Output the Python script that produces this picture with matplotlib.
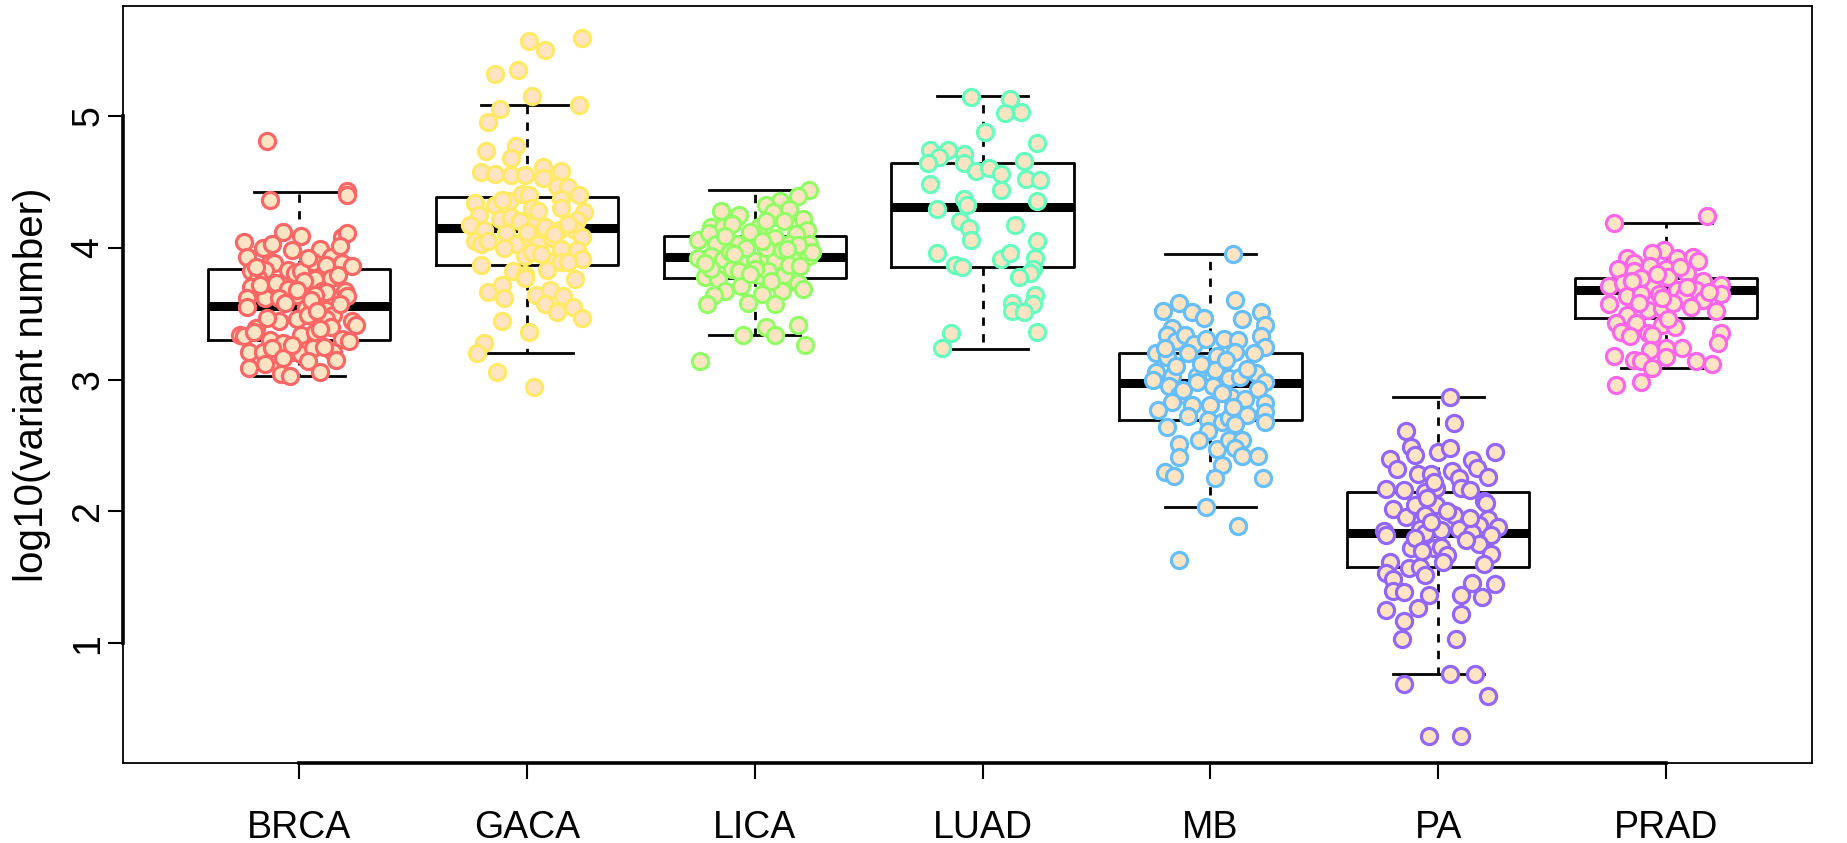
import numpy as np
import matplotlib
matplotlib.use('Agg')
import matplotlib.pyplot as plt

plt.rcParams['font.family'] = ['Liberation Sans', 'DejaVu Sans']

groups = ['BRCA', 'GACA', 'LICA', 'LUAD', 'MB', 'PA', 'PRAD']
edge_colors = ['#FF6666', '#FFE966', '#92FF66', '#66FFBE', '#66BEFF', '#9266FF', '#FF66E9']

# box statistics per cohort: lower whisker, Q1, median, Q3, upper whisker
whis_lo = [3.03, 3.20, 3.34, 3.23, 2.03, 0.77, 3.09]
q1 = [3.30, 3.87, 3.77, 3.85, 2.69, 1.58, 3.47]
medians = [3.56, 4.15, 3.93, 4.31, 2.97, 1.84, 3.68]
q3 = [3.84, 4.38, 4.09, 4.64, 3.20, 2.15, 3.77]
whis_hi = [4.42, 5.08, 4.44, 5.15, 3.95, 2.87, 4.19]

# per-sample log10 variant counts and their horizontal jitter
brca_vals = [4.81, 4.36, 4.43, 4.40, 4.12, 4.09, 4.08, 4.11,
             4.04, 4.00, 4.03, 3.98, 3.99, 3.93, 4.01,
             3.93, 3.88, 3.88, 3.89, 3.87, 3.88, 3.86,
             3.82, 3.83, 3.83, 3.81, 3.82, 3.77, 3.76, 3.77,
             3.70, 3.73, 3.69, 3.67, 3.66, 3.67, 3.63,
             3.62, 3.62, 3.62, 3.64, 3.64,
             3.55, 3.54, 3.53, 3.49,
             3.34, 3.39, 3.44, 3.46, 3.49, 3.46, 3.44, 3.41,
             3.33, 3.30, 3.28, 3.34, 3.36, 3.40, 3.31, 3.29,
             3.21, 3.21, 3.24, 3.21, 3.19, 3.24, 3.21,
             3.09, 3.12, 3.16, 3.14, 3.15,
             3.04, 3.03, 3.06,
             3.72, 3.58, 3.60, 3.75, 3.85, 3.47, 3.38, 3.26,
             3.57, 3.68, 3.92, 3.36, 3.52, 3.79, 3.25]
brca_jit = [-0.14, -0.13, 0.21, 0.21, -0.07, 0.01, 0.19, 0.21,
            -0.24, -0.16, -0.12, -0.03, 0.09, 0.14, 0.18,
            -0.23, -0.13, -0.11, 0.06, 0.12, 0.19, 0.23,
            -0.21, -0.15, -0.05, -0.02, 0.01, -0.18, 0.07, 0.14,
            -0.21, -0.10, -0.05, 0.10, 0.12, 0.20, 0.21,
            -0.23, -0.15, -0.09, -0.01, 0.07,
            -0.23, 0.03, 0.12, 0.15,
            -0.26, -0.19, -0.09, -0.01, 0.04, 0.12, 0.23, 0.25,
            -0.24, -0.13, -0.07, 0.01, 0.07, 0.14, 0.19, 0.22,
            -0.22, -0.16, -0.12, -0.03, 0.01, 0.06, 0.15,
            -0.22, -0.15, -0.07, 0.04, 0.16,
            -0.08, -0.04, 0.09,
            -0.17, -0.06, 0.05, 0.02, -0.19, -0.14, 0.09, -0.03,
            0.18, -0.01, 0.04, -0.20, 0.08, 0.17, 0.11]

gaca_vals = [5.57, 5.50, 5.59, 5.32, 5.35, 5.15, 5.05, 5.08, 4.95,
             4.73, 4.77, 4.68,
             4.57, 4.56, 4.55, 4.55, 4.61, 4.53, 4.58, 4.47,
             4.46, 4.40, 4.34, 4.32, 4.35, 4.41, 4.40, 4.30, 4.37, 4.30, 4.27,
             4.25, 4.17, 4.13, 4.22, 4.23, 4.11, 4.17, 4.16, 4.13, 4.21, 4.13, 4.08,
             4.05, 4.03, 4.05, 4.03, 4.07, 4.03, 4.07, 3.99, 3.98, 3.91,
             3.87, 3.94, 3.97, 3.89, 3.89, 3.89, 3.83,
             3.82, 3.79, 3.77, 3.76,
             3.66, 3.72, 3.62, 3.64, 3.68, 3.63, 3.57, 3.51, 3.55, 3.47,
             3.44, 3.36, 3.28, 3.20, 3.06, 2.94,
             4.20, 4.10, 4.28, 4.00, 4.12, 3.95, 4.36, 4.18]
gaca_jit = [0.01, 0.08, 0.24, -0.14, -0.04, 0.02, -0.12, 0.23, -0.17,
            -0.18, -0.05, -0.07,
            -0.20, -0.14, -0.07, -0.01, 0.07, 0.07, 0.15, 0.13,
            0.18, 0.23, -0.23, -0.14, -0.08, -0.02, 0.01, 0.02, 0.15, 0.15, 0.25,
            -0.21, -0.25, -0.19, -0.12, -0.07, -0.09, 0.03, 0.08, 0.14, 0.22, 0.21, 0.24,
            -0.23, -0.20, -0.17, -0.05, 0.01, 0.05, 0.11, 0.15, 0.22, 0.24,
            -0.20, -0.01, 0.02, 0.11, 0.15, 0.18, 0.09,
            -0.06, -0.01, -0.01, 0.21,
            -0.17, -0.11, -0.10, 0.04, 0.10, 0.16, 0.08, 0.13, 0.20, 0.24,
            -0.11, 0.01, -0.19, -0.22, -0.13, 0.03,
            -0.03, 0.12, 0.05, -0.10, 0.00, 0.06, -0.11, 0.18]

lica_vals = [4.44, 4.39, 4.35, 4.32, 4.28, 4.23, 4.25, 4.27, 4.29, 4.22,
             4.16, 4.16, 4.16, 4.20, 4.20, 4.13, 4.10, 4.06, 4.11, 4.03, 4.03, 4.08, 4.07, 4.03, 4.03,
             3.92, 3.94, 3.91, 3.84, 3.89, 3.90, 3.93, 3.90, 3.93, 3.94, 3.97,
             3.78, 3.76, 3.79, 3.79, 3.73, 3.69, 3.67, 3.67, 3.64,
             3.57, 3.58, 3.65, 3.57,
             3.40, 3.41, 3.34, 3.34, 3.26, 3.14,
             3.97, 4.00, 4.00, 3.98, 3.82, 3.82, 3.84, 3.84, 3.87,
             4.12, 4.02, 3.86, 3.95, 4.05, 3.88, 3.75, 4.18, 3.99, 3.71, 4.09, 3.80]
lica_jit = [0.24, 0.19, 0.11, 0.05, -0.15, -0.08, -0.07, 0.08, 0.15, 0.21,
            -0.19, -0.14, 0.02, 0.05, 0.13, 0.23, 0.18, -0.25, -0.20, -0.17, -0.08, 0.00, 0.09, 0.15, 0.24,
            -0.25, -0.19, -0.14, -0.10, -0.05, 0.00, 0.06, 0.09, 0.16, 0.24, 0.25,
            -0.22, -0.16, 0.02, 0.13, 0.19, 0.21, 0.12, -0.13, -0.18,
            -0.21, -0.03, 0.03, 0.09,
            0.05, 0.19, -0.05, 0.09, 0.22, -0.24,
            -0.11, -0.04, 0.05, 0.12, -0.07, 0.06, 0.00, -0.19, 0.15,
            -0.02, 0.19, 0.20, -0.09, 0.03, -0.22, 0.07, -0.10, 0.14, -0.06, -0.13, -0.02]

luad_vals = [5.14, 5.13, 5.02, 5.03, 4.88, 4.79,
             4.74, 4.74, 4.71, 4.69, 4.64, 4.64, 4.66,
             4.58, 4.60, 4.56, 4.52, 4.51, 4.44, 4.48,
             4.37, 4.32, 4.35, 4.29,
             4.20, 4.15, 4.17, 4.06,
             4.05, 3.96, 3.87, 3.85, 3.91, 3.96, 3.92, 3.84, 3.81, 3.78,
             3.64, 3.57, 3.58, 3.52, 3.51,
             3.35, 3.24, 3.36]
luad_jit = [-0.05, 0.12, 0.10, 0.17, 0.01, 0.24,
            -0.23, -0.15, -0.08, -0.19, -0.24, -0.08, 0.18,
            -0.03, 0.03, 0.08, 0.19, 0.25, 0.08, -0.23,
            -0.08, -0.07, 0.24, -0.20,
            -0.10, -0.06, 0.14, -0.05,
            0.24, -0.20, -0.12, -0.09, 0.08, 0.12, 0.23, 0.22, 0.21, 0.16,
            0.23, 0.22, 0.13, 0.13, 0.18,
            -0.14, -0.18, 0.24]

mb_vals = [3.95,
           3.60, 3.58, 3.52, 3.51, 3.47, 3.51, 3.46, 3.41,
           3.39, 3.34, 3.29, 3.34, 3.27, 3.31, 3.31, 3.30, 3.33, 3.25,
           3.20, 3.17, 3.20, 3.18, 3.21, 3.20,
           3.06, 3.03, 3.03, 3.07, 3.01, 3.02, 3.05, 2.98,
           3.00, 2.95, 2.95, 2.87, 2.85, 2.93,
           2.88, 2.83, 2.77, 2.81, 2.81, 2.82, 2.75, 2.68,
           2.64, 2.69, 2.68, 2.71, 2.73, 2.66,
           2.61, 2.54, 2.51, 2.47, 2.54, 2.54, 2.48, 2.42, 2.42,
           2.41, 2.35, 2.30, 2.27, 2.25, 2.25,
           2.03, 1.89, 1.63,
           3.12, 2.90, 3.08, 2.92, 3.15, 2.79, 3.24, 2.98, 2.72, 3.10]
mb_jit = [0.10,
          0.11, -0.14, -0.21, -0.08, -0.03, 0.22, 0.14, 0.24,
          -0.17, -0.19, -0.15, -0.11, -0.07, -0.02, 0.06, 0.12, 0.22, 0.24,
          -0.24, -0.19, -0.10, 0.03, 0.11, 0.19,
          -0.24, -0.17, -0.06, 0.02, 0.08, 0.13, 0.20, 0.24,
          -0.25, -0.18, 0.01, 0.09, 0.15, 0.21,
          -0.14, -0.17, -0.23, -0.08, 0.00, 0.24, 0.24, 0.24,
          -0.19, -0.01, 0.05, 0.08, 0.16, 0.11,
          -0.01, -0.05, -0.14, 0.03, 0.08, 0.14, 0.11, 0.14, 0.21,
          -0.14, 0.05, -0.20, -0.16, 0.02, 0.23,
          -0.02, 0.12, -0.14,
          -0.04, 0.05, 0.16, -0.12, 0.07, 0.10, -0.20, -0.06, -0.10, -0.15]

pa_vals = [2.87, 2.67,
           2.61, 2.49, 2.43, 2.45, 2.48, 2.45, 2.39, 2.40, 2.32, 2.33, 2.26,
           2.28, 2.28, 2.31, 2.25, 2.18, 2.16, 2.17, 2.16, 2.15, 2.18, 2.08, 2.06,
           2.02, 1.96, 2.05, 2.05, 1.97, 1.97, 1.94, 1.90, 1.88, 1.85, 1.82, 1.87, 1.86, 1.87, 1.84, 1.82,
           1.72, 1.84, 1.72, 1.73, 1.67, 1.75, 1.68, 1.60, 1.62, 1.62, 1.57, 1.58, 1.52, 1.53, 1.49,
           1.40, 1.39, 1.37, 1.37, 1.46, 1.35, 1.45,
           1.25, 1.27, 1.17, 1.22,
           1.03, 1.03,
           0.77, 0.77, 0.69, 0.60,
           0.30, 0.30,
           1.92, 1.78, 2.10, 1.80, 1.95, 2.00, 1.70, 2.22]
pa_jit = [0.05, 0.07,
          -0.14, -0.12, -0.10, 0.00, 0.05, 0.25, 0.15, -0.21, -0.18, 0.17, 0.22,
          -0.09, -0.03, 0.06, 0.09, 0.10, 0.14, -0.23, -0.15, -0.06, -0.01, 0.20, 0.21,
          -0.20, -0.14, -0.10, -0.01, -0.06, 0.07, 0.22, 0.18, 0.26, -0.24, -0.23, -0.08, 0.01, 0.09, 0.15, 0.23,
          -0.12, -0.06, -0.02, 0.01, 0.04, 0.18, 0.23, 0.20, 0.02, -0.21, -0.13, -0.08, -0.06, -0.23, -0.20,
          -0.20, -0.15, -0.04, 0.10, 0.15, 0.19, 0.25,
          -0.23, -0.09, -0.15, 0.10,
          -0.16, 0.08,
          0.05, 0.16, -0.15, 0.22,
          -0.04, 0.10,
          -0.03, 0.12, -0.05, -0.10, 0.14, 0.04, -0.07, -0.02]

prad_vals = [4.19, 4.24,
             3.98, 3.96, 3.92, 3.93, 3.90, 3.92, 3.88, 3.84, 3.82, 3.86, 3.84, 3.81,
             3.71, 3.73, 3.72, 3.70, 3.78, 3.77, 3.75, 3.72, 3.65, 3.68, 3.68, 3.63, 3.57, 3.60, 3.52,
             3.53, 3.54, 3.49, 3.43, 3.43, 3.41, 3.40, 3.36, 3.33, 3.35, 3.34, 3.35, 3.28,
             3.22, 3.24, 3.24, 3.18, 3.15, 3.14, 3.09, 3.17, 3.14, 3.12,
             2.96, 2.98,
             3.65, 3.65, 3.63, 3.58, 3.55,
             3.80, 3.70, 3.62, 3.75, 3.85, 3.58, 3.46, 3.66]
prad_jit = [-0.23, 0.18,
            -0.01, -0.06, 0.05, 0.12, 0.14, -0.17, -0.14, -0.21, -0.14, -0.07, 0.00, 0.09,
            -0.25, -0.19, -0.12, -0.06, 0.01, -0.11, 0.16, 0.24, 0.24, 0.13, 0.05, -0.17, -0.25, 0.16, 0.22,
            -0.08, -0.02, -0.17, -0.22, -0.13, -0.02, 0.04, -0.20, -0.16, -0.08, -0.06, 0.24, 0.23,
            -0.07, 0.00, 0.07, -0.23, -0.14, -0.11, -0.06, 0.00, 0.13, 0.20,
            -0.22, -0.11,
            -0.11, -0.03, 0.08, 0.03, 0.11,
            -0.04, 0.09, -0.02, -0.15, 0.06, -0.12, 0.01, 0.19]

all_vals = [brca_vals, gaca_vals, lica_vals, luad_vals, mb_vals, pa_vals, prad_vals]
all_jit = [brca_jit, gaca_jit, lica_jit, luad_jit, mb_jit, pa_jit, prad_jit]

fig = plt.figure(figsize=(18.47, 8.43), dpi=100)
ax = fig.add_axes([0.0666, 0.0945, 0.9144, 0.8984])

positions = np.arange(1, len(groups) + 1)
stats = []
for i, g in enumerate(groups):
    stats.append({'label': g, 'whislo': whis_lo[i], 'q1': q1[i], 'med': medians[i],
                  'q3': q3[i], 'whishi': whis_hi[i], 'fliers': []})

ax.bxp(stats, positions=positions, widths=0.8, capwidths=0.4, showfliers=False,
       boxprops=dict(color='black', linewidth=2.0),
       medianprops=dict(color='black', linewidth=6.5, solid_capstyle='butt'),
       whiskerprops=dict(color='black', linewidth=2.0, linestyle=(0, (3, 3))),
       capprops=dict(color='black', linewidth=2.0),
       zorder=1)

for i in range(len(groups)):
    xs = positions[i] + np.array(all_jit[i])
    ax.scatter(xs, all_vals[i], s=135, facecolor='bisque', edgecolor=edge_colors[i],
               linewidths=2.3, zorder=3)

yticks = [1, 2, 3, 4, 5]
ax.set_xlim(0.227, 7.64)
ax.set_ylim(0.090, 5.832)
ax.set_xticks(positions)
ax.set_xticklabels(groups)
ax.set_yticks(yticks)
ax.set_yticklabels([str(t) for t in yticks], rotation=90, va='center')
ax.tick_params(axis='x', length=11.5, width=1.5, pad=22, labelsize=27)
ax.tick_params(axis='y', length=11, width=1.5, pad=1, labelsize=27)
for sp in ax.spines.values():
    sp.set_linewidth(1.3)

# axis lines between the first and last tick sit on top of the frame
x0, _ = ax.get_xlim()
y0, _ = ax.get_ylim()
ax.plot([x0, x0], [yticks[0], yticks[-1]], color='black', lw=2.6, clip_on=False, zorder=5)
ax.plot([positions[0], positions[-1]], [y0, y0], color='black', lw=2.6, clip_on=False, zorder=5)

ax.set_ylabel('log10(variant number)', fontsize=29, va='center')
ax.yaxis.set_label_coords(-0.054, 0.5)

fig.savefig('out.png', dpi=100)
